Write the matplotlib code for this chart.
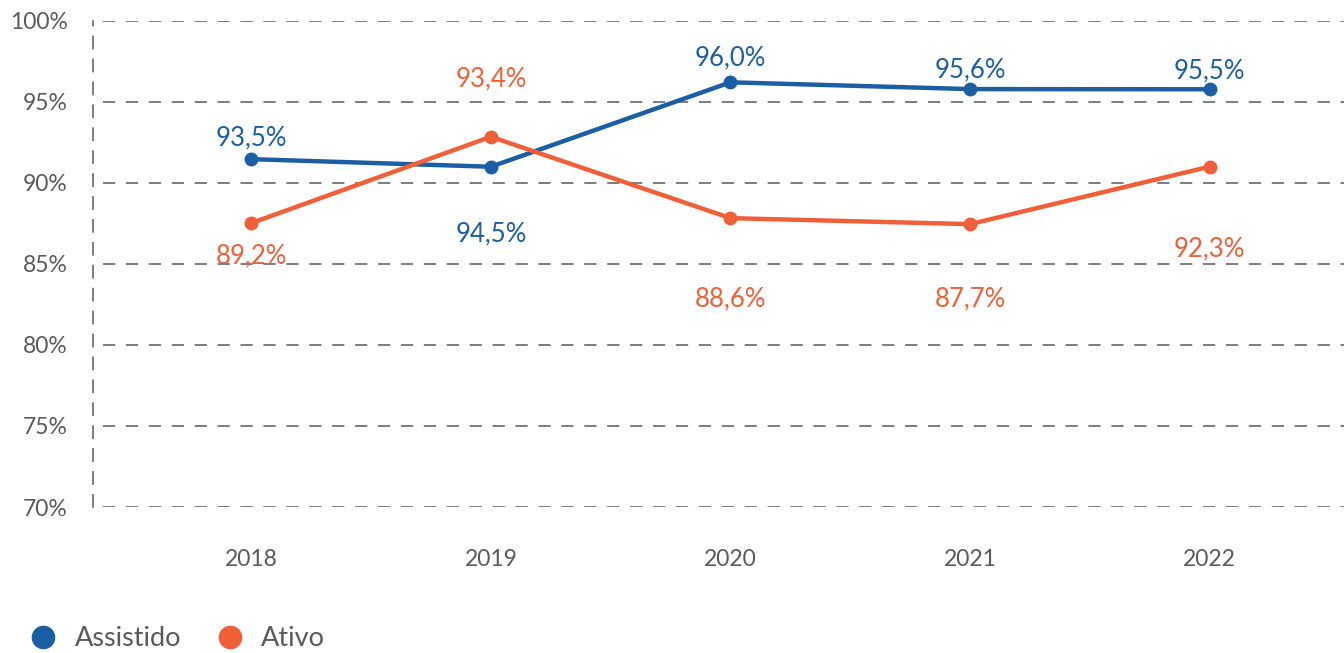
import matplotlib
matplotlib.use("Agg")
import matplotlib.pyplot as plt
from matplotlib.lines import Line2D

years = ["2018", "2019", "2020", "2021", "2022"]
assistido = [91.46, 90.99, 96.2, 95.78, 95.77]
ativo = [87.51, 92.84, 87.82, 87.45, 91.0]
assistido_labels = ["93,5%", "94,5%", "96,0%", "95,6%", "95,5%"]
ativo_labels = ["89,2%", "93,4%", "88,6%", "87,7%", "92,3%"]
y_ticks = [70, 75, 80, 85, 90, 95, 100]

# vertical label offsets in pixels (negative = above the point)
assistido_off = [-24, 65, -27, -22, -21]
ativo_off = [30, -60, 78, 72, 80]

BLUE = "#1b5ea4"
ORANGE = "#ef5f38"
GREY = "#5a5a5a"

plt.rcParams["font.family"] = ["Lato", "DejaVu Sans"]

fig = plt.figure(figsize=(13.44, 6.53), dpi=100)
ax = fig.add_axes([93 / 1344, 1 - 507 / 653, 1 - 93 / 1344, (507 - 20.7) / 653])

x = list(range(len(years)))
ax.set_xlim(-0.66, 4.56)
ax.set_ylim(70, 100)

for v in y_ticks:
    ax.axhline(v, xmin=0.008, xmax=1, color=GREY, lw=1.1, ls=(0, (8, 7)), zorder=1)

ax.plot(x, assistido, color=BLUE, lw=3.2, marker="o", ms=9, zorder=3, solid_capstyle="round")
ax.plot(x, ativo, color=ORANGE, lw=3.2, marker="o", ms=9, zorder=3, solid_capstyle="round")

for xi, v, lab, off in zip(x, assistido, assistido_labels, assistido_off):
    ax.annotate(lab, (xi, v), xytext=(0, -off * 0.72), textcoords="offset points",
                ha="center", va="center_baseline", fontsize=18.5, color=BLUE)
for xi, v, lab, off in zip(x, ativo, ativo_labels, ativo_off):
    ax.annotate(lab, (xi, v), xytext=(0, -off * 0.72), textcoords="offset points",
                ha="center", va="center_baseline", fontsize=18.5, color=ORANGE)

for s in ["top", "right", "bottom"]:
    ax.spines[s].set_visible(False)
ax.spines["left"].set_color(GREY)
ax.spines["left"].set_linewidth(1.1)
ax.spines["left"].set_linestyle((0, (8, 7)))

ax.set_yticks(y_ticks)
ax.set_yticklabels([f"{v}%" for v in y_ticks])
ax.set_xticks(x)
ax.set_xticklabels(years)
ax.tick_params(axis="y", length=0, pad=18, labelsize=16.5, labelcolor=GREY)
ax.tick_params(axis="x", length=0, pad=30, labelsize=16.5, labelcolor=GREY)

handles = [
    Line2D([], [], ls="none", marker="o", ms=16, color=BLUE, label="Assistido"),
    Line2D([], [], ls="none", marker="o", ms=16, color=ORANGE, label="Ativo"),
]
fig.legend(handles=handles, loc="lower left", bbox_to_anchor=(0.004, -0.035), ncol=2,
           frameon=False, fontsize=19.5, labelcolor=GREY, handletextpad=0.65,
           columnspacing=1.3, handlelength=1.0)

fig.savefig("out.png", dpi=100)
